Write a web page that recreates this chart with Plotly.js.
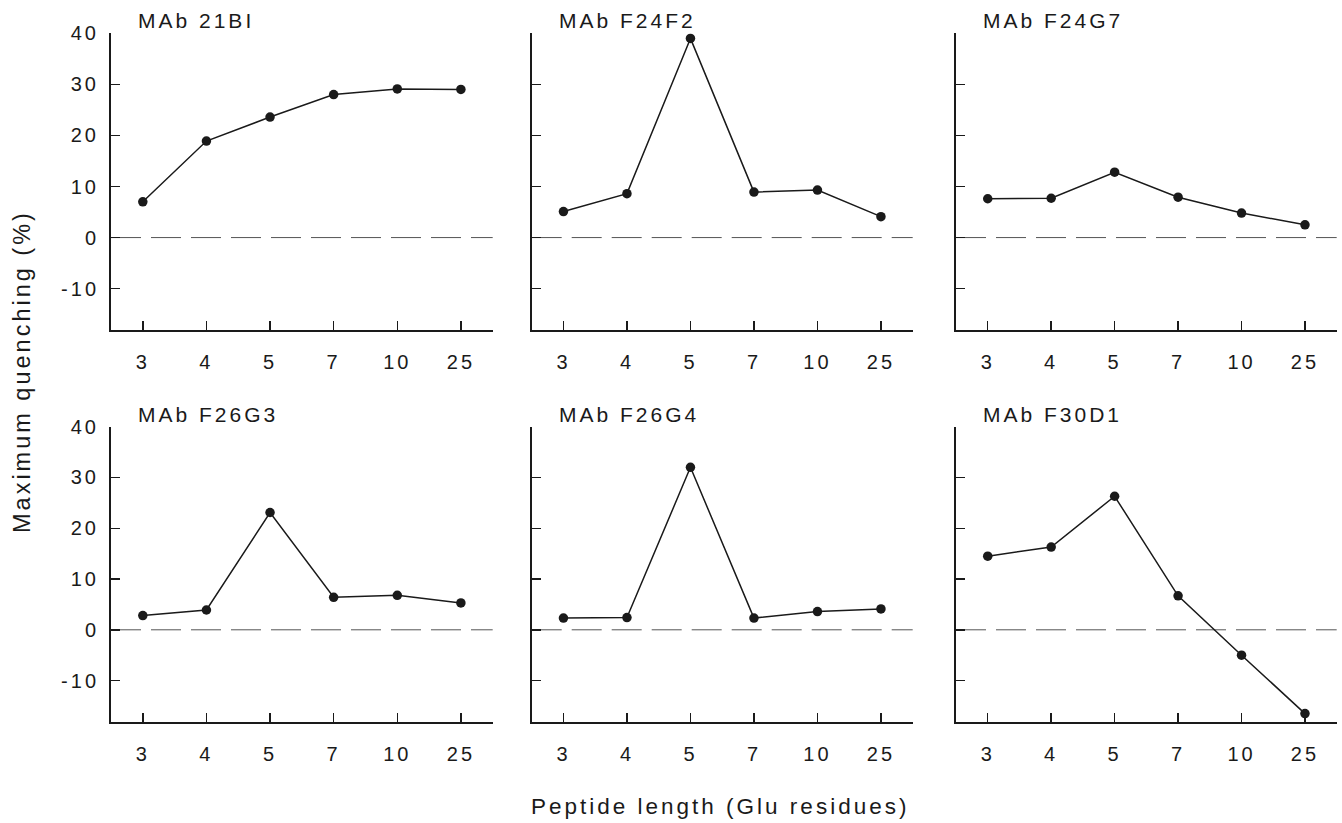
<!DOCTYPE html>
<html><head><meta charset="utf-8">
<script src="https://cdn.plot.ly/plotly-3.0.1.min.js"></script>
<style>
html,body{margin:0;padding:0;background:#fff;}
#chart{width:1342px;height:823px;}
svg text{letter-spacing:3px;}
</style>
</head><body><div id="chart"></div>
<script>
const peptideLengths = ['3','4','5','7','10','25'];
const antibodyNames = ['MAb 21BI','MAb F24F2','MAb F24G7','MAb F26G3','MAb F26G4','MAb F30D1'];
const q21BI  = [7.0, 18.9, 23.6, 28.0, 29.1, 29.0];
const qF24F2 = [5.1, 8.6, 39.0, 8.9, 9.3, 4.1];
const qF24G7 = [7.6, 7.7, 12.8, 7.9, 4.8, 2.5];
const qF26G3 = [2.8, 3.9, 23.1, 6.4, 6.8, 5.3];
const qF26G4 = [2.3, 2.4, 32.0, 2.3, 3.6, 4.1];
const qF30D1 = [14.5, 16.3, 26.3, 6.7, -5.0, -16.5];
const yTickValues = [-10, 0, 10, 20, 30, 40];
const yTickLabels = ['-10', '0', '10', '20', '30', '40'];

const series = [q21BI, qF24F2, qF24G7, qF26G3, qF26G4, qF30D1];

const W = 1342, H = 823;
const colPx = [[111, 492.7], [531.7, 912.7], [956, 1336.7]];
const rowPx = [[33.3, 330], [426.7, 721.7]];
const FONT = '"Liberation Sans", Arial, sans-serif';
const INK = '#1a1a1a';

const traces = [];
const layout = {
  width: W, height: H,
  margin: {l: 0, r: 0, t: 0, b: 0},
  paper_bgcolor: '#fff', plot_bgcolor: '#fff',
  showlegend: false,
  font: {family: FONT, size: 20, color: INK},
  shapes: [], annotations: []
};

series.forEach((vals, i) => {
  const r = Math.floor(i / 3), c = i % 3;
  const n = i + 1;
  const xa = 'x' + (n === 1 ? '' : n), ya = 'y' + (n === 1 ? '' : n);
  traces.push({
    x: peptideLengths, y: vals, xaxis: xa, yaxis: ya,
    type: 'scatter', mode: 'lines+markers',
    line: {color: INK, width: 1.5},
    marker: {color: INK, size: 9.5},
    cliponaxis: false, hoverinfo: 'x+y'
  });
  const xd = [colPx[c][0] / W, colPx[c][1] / W];
  const yd = [1 - rowPx[r][1] / H, 1 - rowPx[r][0] / H];
  layout['xaxis' + (n === 1 ? '' : n)] = {
    domain: xd, anchor: ya, type: 'category', range: [-0.5, 5.5],
    showgrid: false, zeroline: false, showline: true, linewidth: 2, linecolor: INK,
    ticks: 'inside', ticklen: 9, tickwidth: 1.5, tickcolor: INK,
    ticklabelstandoff: 13,
    tickfont: {family: FONT, size: 20, color: INK}, fixedrange: true
  };
  layout['yaxis' + (n === 1 ? '' : n)] = {
    domain: yd, anchor: xa, range: [-18.1, 40],
    tickmode: 'array', tickvals: yTickValues, ticktext: yTickLabels,
    showticklabels: c === 0,
    showgrid: false, zeroline: false, showline: true, linewidth: 2, linecolor: INK,
    ticks: 'inside', ticklen: 9, tickwidth: 1.5, tickcolor: INK,
    ticklabelstandoff: 6,
    tickfont: {family: FONT, size: 20, color: INK}, fixedrange: true
  };
  layout.shapes.push({
    type: 'line', xref: xa + ' domain', yref: ya, x0: 0, x1: 1, y0: 0, y1: 0,
    line: {color: '#555', width: 1, dash: '30px,10px'}, layer: 'below'
  });
  layout.annotations.push({
    text: antibodyNames[i], xref: xa + ' domain', yref: ya + ' domain',
    x: 0.066, y: 1, xanchor: 'left', yanchor: 'bottom', yshift: -1,
    showarrow: false, font: {family: FONT, size: 21, color: INK}
  });
});

layout.annotations.push({
  text: 'Peptide length (Glu residues)', xref: 'paper', yref: 'paper',
  x: 720 / W, y: 1 - 806 / H, xanchor: 'center', yanchor: 'middle',
  showarrow: false, font: {family: FONT, size: 22.5, color: INK}
});
layout.annotations.push({
  text: 'Maximum quenching (%)', xref: 'paper', yref: 'paper',
  x: 22 / W, y: 1 - 372 / H, xanchor: 'center', yanchor: 'middle', textangle: -90,
  showarrow: false, font: {family: FONT, size: 23.5, color: INK}
});

Plotly.newPlot('chart', traces, layout, {displayModeBar: false, staticPlot: true});
</script>
</body></html>
